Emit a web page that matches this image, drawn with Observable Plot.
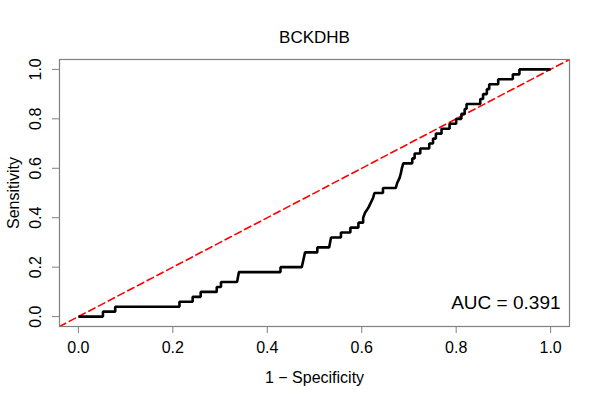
<!DOCTYPE html>
<html><head><meta charset="utf-8">
<script src="https://cdn.jsdelivr.net/npm/d3@7"></script>
<script src="https://cdn.jsdelivr.net/npm/@observablehq/plot@0.6"></script>
<style>body{margin:0;background:#fff}</style>
</head><body><div id="chart"></div>
<script>
const fpr = [0, 0.052, 0.052, 0.078, 0.078, 0.214, 0.214, 0.242, 0.242, 0.259, 0.259, 0.293, 0.293, 0.302, 0.302, 0.336, 0.340,
  0.428, 0.428, 0.473, 0.480, 0.506, 0.506, 0.531, 0.535, 0.556, 0.556, 0.576, 0.576, 0.593, 0.593, 0.603, 0.603,
  0.607, 0.614, 0.619, 0.624, 0.627, 0.645, 0.645, 0.672, 0.675, 0.680, 0.683, 0.685, 0.688, 0.707, 0.707, 0.712, 0.712,
  0.724, 0.724, 0.743, 0.743, 0.751, 0.751, 0.757, 0.757, 0.769, 0.769, 0.786, 0.786, 0.800, 0.800, 0.811, 0.811,
  0.818, 0.818, 0.822, 0.822, 0.851, 0.851, 0.857, 0.857, 0.865, 0.865, 0.870, 0.870, 0.889, 0.889, 0.920, 0.920,
  0.934, 0.934, 1.0];
const tpr = [0, 0, 0.02, 0.02, 0.04, 0.04, 0.06, 0.06, 0.08, 0.08, 0.10, 0.10, 0.12, 0.12, 0.14, 0.14, 0.18,
  0.18, 0.20, 0.20, 0.26, 0.26, 0.28, 0.28, 0.32, 0.32, 0.34, 0.34, 0.36, 0.36, 0.38, 0.38, 0.40,
  0.42, 0.44, 0.46, 0.48, 0.50, 0.50, 0.52, 0.52, 0.54, 0.56, 0.58, 0.60, 0.62, 0.62, 0.64, 0.64, 0.66,
  0.66, 0.68, 0.68, 0.70, 0.70, 0.72, 0.72, 0.74, 0.74, 0.76, 0.76, 0.78, 0.78, 0.80, 0.80, 0.82,
  0.82, 0.84, 0.84, 0.86, 0.86, 0.88, 0.88, 0.90, 0.90, 0.92, 0.92, 0.94, 0.94, 0.96, 0.96, 0.98,
  0.98, 1.0, 1.0];
const xTicks = [0, 0.2, 0.4, 0.6, 0.8, 1.0];
const yTicks = [0, 0.2, 0.4, 0.6, 0.8, 1.0];
const axisRange = [-0.04, 1.04];
const titleText = ["BCKDHB"];
const aucLabel = ["AUC = 0.391"];
const xLabel = ["1 \u2212 Specificity"];
const yLabel = ["Sensitivity"];

const roc = fpr.map((x, i) => ({x, y: tpr[i]}));
const diag = axisRange.map(v => ({x: v, y: v}));
const fmt = d3.format(".1f");

const chart = Plot.plot({
  width: 600, height: 400,
  marginLeft: 59, marginRight: 31, marginTop: 59, marginBottom: 74,
  style: {fontFamily: "'Liberation Sans', Arial, sans-serif", fontSize: "16px", background: "#fff", color: "#000"},
  x: {domain: axisRange},
  y: {domain: axisRange},
  marks: [
    Plot.line(diag, {x: "x", y: "y", stroke: "#ff0000", strokeWidth: 1.6, strokeDasharray: "7,4", clip: true}),
    Plot.line(roc, {x: "x", y: "y", stroke: "#000", strokeWidth: 2.6, strokeLinejoin: "miter", strokeLinecap: "butt"}),
    Plot.frame({stroke: "#808080", strokeWidth: 1.2}),
    Plot.axisX({ticks: xTicks, tickSize: 7, tickPadding: 8, tickFormat: fmt, label: null, stroke: "#808080", fill: "#000", fontSize: 16}),
    Plot.axisY({ticks: yTicks, tickSize: 7, tickFormat: () => "", label: null, stroke: "#808080"}),
    Plot.text(yTicks, {y: d => d, frameAnchor: "left", dx: -24, rotate: -90, textAnchor: "middle", lineAnchor: "middle", text: d => fmt(d), fontSize: 16, fill: "#000"}),
    Plot.text(titleText, {frameAnchor: "top", dy: -22, textAnchor: "middle", lineAnchor: "middle", text: d => d, fontSize: 17, fill: "#000"}),
    Plot.text(xLabel, {frameAnchor: "bottom", dy: 51, textAnchor: "middle", lineAnchor: "middle", text: d => d, fontSize: 16, fill: "#000"}),
    Plot.text(yLabel, {frameAnchor: "left", dx: -46, rotate: -90, textAnchor: "middle", lineAnchor: "middle", text: d => d, fontSize: 16, fill: "#000"}),
    Plot.text(aucLabel, {x: 1.021, y: 0.057, text: d => d, textAnchor: "end", lineAnchor: "middle", fontSize: 19, fill: "#000"})
  ]
});
document.getElementById("chart").append(chart);
</script>
</body></html>
